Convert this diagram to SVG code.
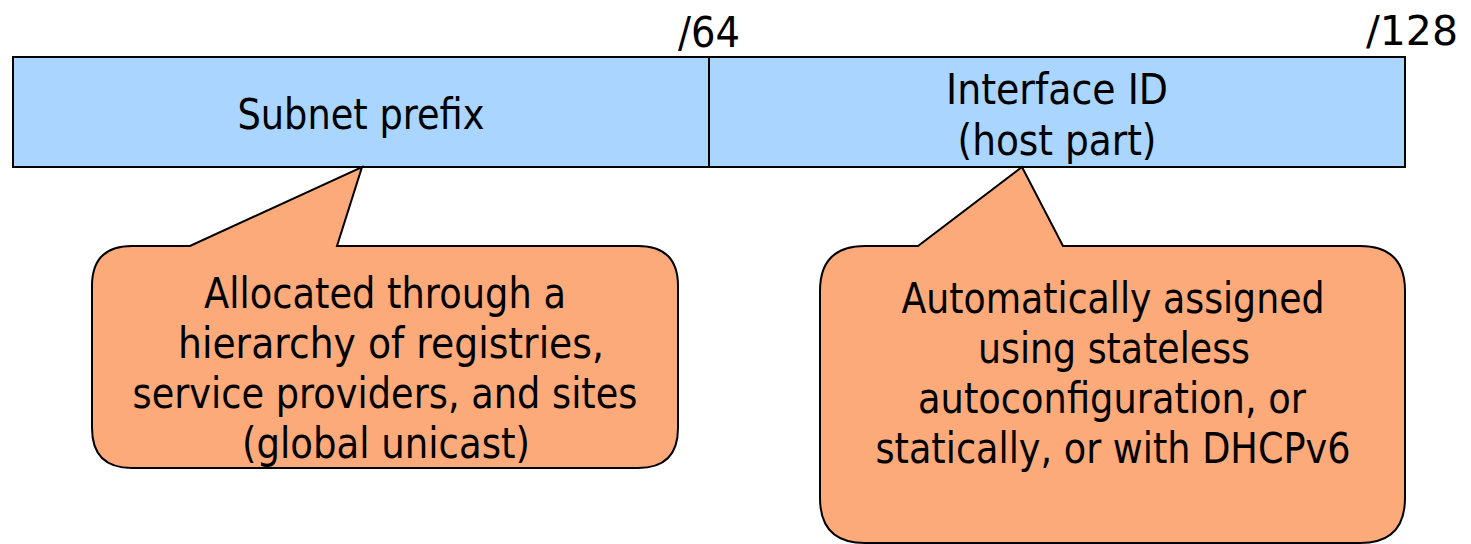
<svg xmlns="http://www.w3.org/2000/svg" width="1471" height="544" viewBox="0 0 1471 544">
<style>
text{font-family:"DejaVu Sans","Liberation Sans",sans-serif;font-size:42px;fill:#000;text-anchor:middle}
.mark{font-size:43px}
.end{text-anchor:end;font-size:41px}
.field{fill:#AAD5FF;stroke:#000;stroke-width:2}
.callout{fill:#FCAA7A;stroke:#000;stroke-width:2;stroke-linejoin:miter}
</style>
<rect width="1471" height="544" fill="#fff"/>
<g id="address">
<rect class="field" x="13" y="57" width="1392" height="110"/>
<line x1="709" y1="57" x2="709" y2="167" stroke="#000" stroke-width="2"/>
</g>
<g id="subnet-prefix">
<text x="361" y="129" textLength="247" lengthAdjust="spacingAndGlyphs">Subnet prefix</text>
</g>
<g id="interface-id">
<text x="1057" y="104" textLength="222" lengthAdjust="spacingAndGlyphs">Interface ID</text>
<text x="1057" y="155" textLength="199" lengthAdjust="spacingAndGlyphs">(host part)</text>
</g>
<g id="marks">
<text class="mark" x="709" y="47" textLength="62" lengthAdjust="spacingAndGlyphs">/64</text>
<text class="end" x="1458" y="45">/128</text>
</g>
<g id="callout-left">
<path class="callout" d="M132,246 L190,246 L362,167 L337,246 L638,246 Q678,246 678,286 L678,428 Q678,468 638,468 L132,468 Q92,468 92,428 L92,286 Q92,246 132,246 Z"/>
<text x="385" y="308" textLength="362" lengthAdjust="spacingAndGlyphs">Allocated through a</text>
<text x="391" y="358" textLength="426" lengthAdjust="spacingAndGlyphs">hierarchy of registries,</text>
<text x="385" y="408" textLength="505" lengthAdjust="spacingAndGlyphs">service providers, and sites</text>
<text x="386" y="458" textLength="288" lengthAdjust="spacingAndGlyphs">(global unicast)</text>
</g>
<g id="callout-right">
<path class="callout" d="M865,246 L918,246 L1022,167 L1063,246 L1360,246 Q1405,246 1405,291 L1405,498 Q1405,543 1360,543 L865,543 Q820,543 820,498 L820,291 Q820,246 865,246 Z"/>
<text x="1113" y="313" textLength="423" lengthAdjust="spacingAndGlyphs">Automatically assigned</text>
<text x="1114" y="363" textLength="272" lengthAdjust="spacingAndGlyphs">using stateless</text>
<text x="1112" y="413" textLength="388" lengthAdjust="spacingAndGlyphs">autoconfiguration, or</text>
<text x="1113" y="463" textLength="475" lengthAdjust="spacingAndGlyphs">statically, or with DHCPv6</text>
</g>
<g id="connectors"></g>
</svg>
